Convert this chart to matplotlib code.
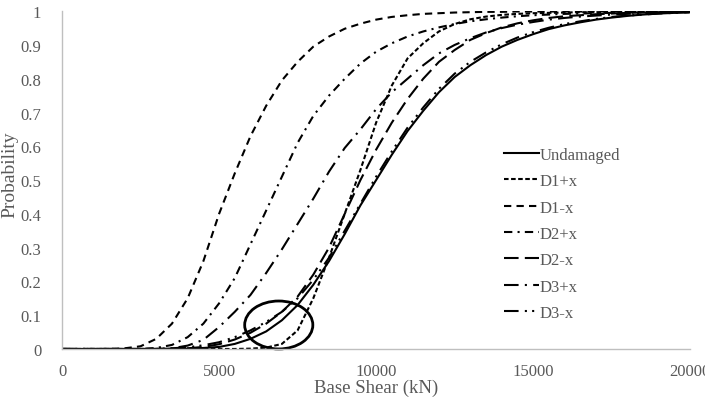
import matplotlib
matplotlib.use("Agg")
import matplotlib.pyplot as plt
from matplotlib.patches import Ellipse

# Base shear grid (kN)
base_shear = list(range(0, 20001, 500))

# Fragility curves
undamaged = [0, 0, 0, 0, 0, 0, 0, 0.001, 0.001, 0.003, 0.006, 0.015, 0.03, 0.052, 0.085, 0.13, 0.19,
             0.26, 0.34, 0.425, 0.5, 0.575, 0.645, 0.705, 0.76, 0.805, 0.84, 0.87, 0.895, 0.915, 0.932,
             0.947, 0.958, 0.967, 0.975, 0.981, 0.986, 0.99, 0.993, 0.995, 0.997]
d1_plus = [0, 0, 0, 0, 0, 0, 0, 0, 0, 0, 0, 0, 0.001, 0.004, 0.015, 0.055, 0.15, 0.27, 0.40, 0.53,
           0.67, 0.78, 0.86, 0.905, 0.94, 0.962, 0.976, 0.984, 0.989, 0.992, 0.994, 0.995, 0.996,
           0.997, 0.997, 0.998, 0.998, 0.998, 0.999, 0.999, 0.999]
d1_minus = [0, 0, 0, 0, 0.002, 0.008, 0.03, 0.075, 0.15, 0.26, 0.40, 0.52, 0.63, 0.72, 0.795, 0.85,
            0.895, 0.925, 0.948, 0.963, 0.975, 0.983, 0.988, 0.992, 0.994, 0.996, 0.997, 0.998, 0.998,
            0.999, 0.999, 0.999, 0.999, 0.999, 0.999, 0.999, 0.999, 0.999, 0.999, 0.999, 0.999]
d2_plus = [0, 0, 0, 0, 0, 0, 0.003, 0.012, 0.035, 0.075, 0.135, 0.21, 0.31, 0.41, 0.51, 0.61, 0.69,
           0.75, 0.80, 0.845, 0.88, 0.905, 0.925, 0.94, 0.952, 0.962, 0.97, 0.976, 0.981, 0.985, 0.988,
           0.99, 0.992, 0.993, 0.994, 0.995, 0.996, 0.997, 0.997, 0.998, 0.998]
d2_minus = [0, 0, 0, 0, 0, 0, 0, 0, 0.002, 0.006, 0.014, 0.028, 0.048, 0.075, 0.11, 0.155, 0.22,
            0.30, 0.40, 0.50, 0.59, 0.67, 0.74, 0.80, 0.85, 0.885, 0.915, 0.935, 0.952, 0.964, 0.973,
            0.98, 0.985, 0.988, 0.991, 0.993, 0.995, 0.996, 0.997, 0.998, 0.998]
d3_plus = [0, 0, 0, 0, 0, 0, 0, 0.002, 0.01, 0.027, 0.065, 0.11, 0.16, 0.225, 0.295, 0.37, 0.445,
           0.525, 0.595, 0.65, 0.71, 0.76, 0.80, 0.84, 0.875, 0.90, 0.92, 0.937, 0.95, 0.96, 0.968,
           0.975, 0.98, 0.984, 0.987, 0.99, 0.992, 0.994, 0.995, 0.996, 0.997]
d3_minus = [0, 0, 0, 0, 0, 0, 0, 0.002, 0.005, 0.011, 0.02, 0.035, 0.055, 0.08, 0.11, 0.15, 0.205,
            0.27, 0.35, 0.43, 0.51, 0.585, 0.655, 0.715, 0.77, 0.815, 0.85, 0.878, 0.902, 0.922, 0.938,
            0.951, 0.962, 0.97, 0.977, 0.983, 0.987, 0.99, 0.993, 0.995, 0.997]

series = [
    ("Undamaged", undamaged, "-"),
    ("D1+x", d1_plus, (0, (2.2, 1.2))),
    ("D1-x", d1_minus, (0, (3.5, 2.5))),
    ("D2+x", d2_plus, (0, (4, 2.5, 1, 2.5))),
    ("D2-x", d2_minus, (0, (7, 3))),
    ("D3+x", d3_plus, (0, (7, 3, 1, 3))),
    ("D3-x", d3_minus, (0, (7, 3, 1, 2.5, 1, 3))),
]

plt.rcParams['font.family'] = ['Liberation Serif', 'DejaVu Serif']

fig = plt.figure(figsize=(7.05, 4.06), dpi=100)
ax = fig.add_axes([0.088, 0.138, 0.891, 0.832])

for name, vals, ls in series:
    ax.plot(base_shear, vals, color="black", linestyle=ls, linewidth=1.5, label=name)

# circled region
circle = Ellipse((6900, 0.071), 2170, 0.142, fill=False, edgecolor="black", linewidth=2, clip_on=False)
ax.add_patch(circle)

ax.set_xlim(0, 20000)
ax.set_ylim(0, 1)
ax.set_xticks([0, 5000, 10000, 15000, 20000])
ax.set_yticks([i / 10 for i in range(11)])
ax.set_yticklabels(["0", "0.1", "0.2", "0.3", "0.4", "0.5", "0.6", "0.7", "0.8", "0.9", "1"])
ax.tick_params(length=0, labelsize=12, labelcolor="#595959")
ax.tick_params(axis="y", pad=15)
ax.tick_params(axis="x", pad=10)

for s in ["top", "right"]:
    ax.spines[s].set_visible(False)
for s in ["left", "bottom"]:
    ax.spines[s].set_color("#bfbfbf")
    ax.spines[s].set_linewidth(1)

ax.set_xlabel("Base Shear (kN)", fontsize=13.5, color="#595959", labelpad=0)
ax.set_ylabel("Probability", fontsize=14, color="#595959")
ax.yaxis.set_label_coords(-0.069, 0.52)

ax.legend(loc="upper left", bbox_to_anchor=(0.703, 0.598), frameon=False, fontsize=12,
          handlelength=2.1, handletextpad=0.05, labelspacing=0.62, borderpad=0, borderaxespad=0,
          labelcolor="#595959")

fig.savefig("out.png", dpi=100)
